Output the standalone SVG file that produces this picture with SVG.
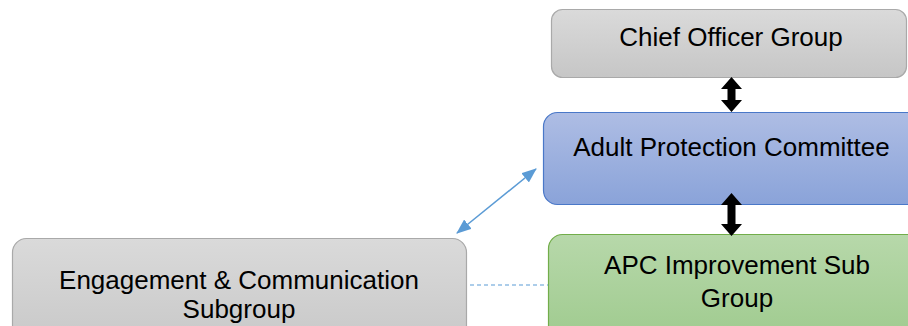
<svg xmlns="http://www.w3.org/2000/svg" width="908" height="326" viewBox="0 0 908 326">
<defs>
<linearGradient id="gGray" x1="0" y1="0" x2="0" y2="1"><stop offset="0" stop-color="#dadada"/><stop offset="1" stop-color="#c6c6c6"/></linearGradient>
<linearGradient id="gBlue" x1="0" y1="0" x2="0" y2="1"><stop offset="0" stop-color="#aebde4"/><stop offset="1" stop-color="#8aa3d9"/></linearGradient>
<linearGradient id="gGreen" x1="0" y1="0" x2="0" y2="1"><stop offset="0" stop-color="#b7d8aa"/><stop offset="1" stop-color="#9cc98b"/></linearGradient>
<marker id="ah" viewBox="0 0 15 12" refX="14" refY="6" markerWidth="15" markerHeight="12" markerUnits="userSpaceOnUse" orient="auto-start-reverse">
<path d="M0,0 L15,6 L0,12 Z" fill="#5b9bd5"/>
</marker>
<style>
.t{font-family:"Liberation Sans",Arial,sans-serif;font-size:26px;fill:#000;text-anchor:middle}
.gray{fill:url(#gGray);stroke:#a9a9a9;stroke-width:1.2}
.blue{fill:url(#gBlue);stroke:#4a78c8;stroke-width:1.2}
.green{fill:url(#gGreen);stroke:#72ad4a;stroke-width:1.2}
.bk{fill:#000}
</style>
</defs>
<g id="chief">
<rect class="gray" x="551.5" y="9.5" width="355" height="68" rx="11"/>
<text class="t" x="731" y="46">Chief Officer Group</text>
</g>
<g id="apc">
<rect class="blue" x="543.5" y="112.5" width="390" height="92" rx="14"/>
<text class="t" x="731.5" y="156">Adult Protection Committee</text>
</g>
<g id="improvement">
<rect class="green" x="548.5" y="234.5" width="390" height="120" rx="14"/>
<text class="t" x="737" y="274">APC Improvement Sub</text>
<text class="t" x="737" y="307">Group</text>
</g>
<g id="engagement">
<rect class="gray" x="12.5" y="238.5" width="454" height="120" rx="14"/>
<text class="t" x="239" y="289">Engagement &amp; Communication</text>
<text class="t" x="239" y="318">Subgroup</text>
</g>
<g id="connectors">
<polygon class="bk" points="731.5,77 742,89 735.5,89 735.5,100 742,100 731.5,112 721,100 727.5,100 727.5,89 721,89"/>
<polygon class="bk" points="731.5,193 742,205 735.5,205 735.5,224 742,224 731.5,236 721,224 727.5,224 727.5,205 721,205"/>
<line x1="457" y1="233" x2="536" y2="169" stroke="#5b9bd5" stroke-width="1.5" marker-start="url(#ah)" marker-end="url(#ah)"/>
<line x1="470" y1="285" x2="548" y2="285" stroke="#5b9bd5" stroke-width="1.2" stroke-dasharray="4,3"/>
</g>
</svg>
